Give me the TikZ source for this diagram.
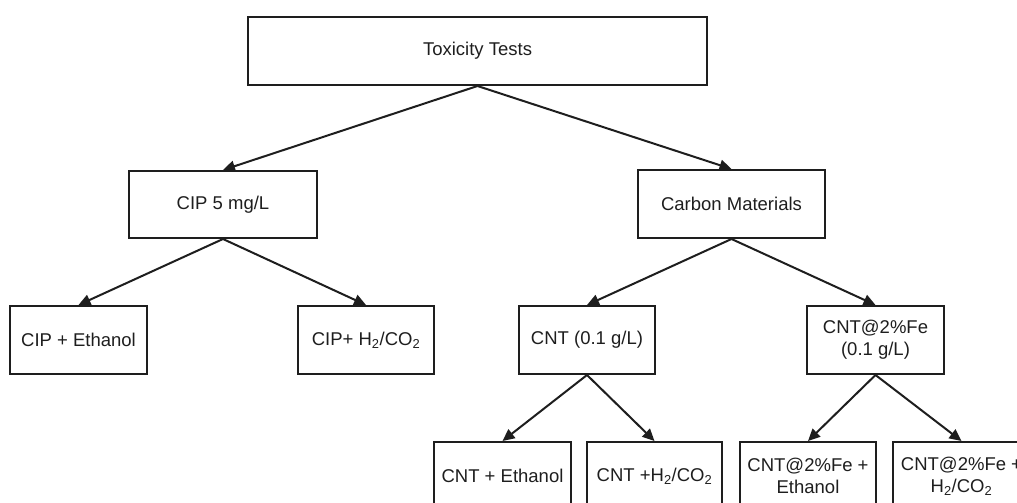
\documentclass[tikz,border=0pt]{standalone}
\usepackage{fontspec}
\setmainfont{Liberation Sans}
\usetikzlibrary{arrows.meta}
\definecolor{ink}{HTML}{1E1E1E}
\tikzset{
  box/.style={draw=ink, line width=2pt, rectangle, minimum height=68pt, inner sep=2pt,
    align=center, text=ink, font=\fontsize{18.5}{22}\selectfont},
  link/.style={draw=ink, line width=2pt, -{Triangle[length=12pt,width=11pt]}}
}
\begin{document}
\begin{tikzpicture}[x=1pt,y=-1pt]
\useasboundingbox (0,0) rectangle (1017,503);
\clip (0,0) rectangle (1017,503);
\node[box, minimum width=459pt] (top) at (477.5,51) {Toxicity Tests};
\node[box, minimum width=188pt, minimum height=67pt] (cip) at (223,204.5) {CIP 5 mg/L};
\node[box, minimum width=187pt] (carbon) at (731.5,204) {Carbon Materials};
\node[box, minimum width=137pt] (cipeth) at (78.5,340) {CIP + Ethanol};
\node[box, minimum width=136pt] (ciph2) at (366,340) {CIP+ H\textsubscript{2}/CO\textsubscript{2}};
\node[box, minimum width=136pt] (cnt) at (587,340) {CNT (0.1 g/L)};
\node[box, minimum width=137pt] (cntfe) at (875.5,340) {CNT@2\%Fe\\(0.1 g/L)};
\node[box, minimum width=137pt] (cnteth) at (502.5,476) {CNT + Ethanol};
\node[box, minimum width=135pt] (cnth2) at (654.5,476) {CNT +H\textsubscript{2}/CO\textsubscript{2}};
\node[box, minimum width=136pt] (cntfeeth) at (808,476) {CNT@2\%Fe +\\Ethanol};
\node[box, minimum width=137pt] (cntfeh2) at (961.5,476) {CNT@2\%Fe +\\H\textsubscript{2}/CO\textsubscript{2}};
\draw[link] (top.south) -- (cip.north);
\draw[link] (top.south) -- (carbon.north);
\draw[link] (cip.south) -- (cipeth.north);
\draw[link] (cip.south) -- (ciph2.north);
\draw[link] (carbon.south) -- (cnt.north);
\draw[link] (carbon.south) -- (cntfe.north);
\draw[link] (cnt.south) -- (cnteth.north);
\draw[link] (cnt.south) -- (cnth2.north);
\draw[link] (cntfe.south) -- (cntfeeth.north);
\draw[link] (cntfe.south) -- (cntfeh2.north);
\end{tikzpicture}
\end{document}
